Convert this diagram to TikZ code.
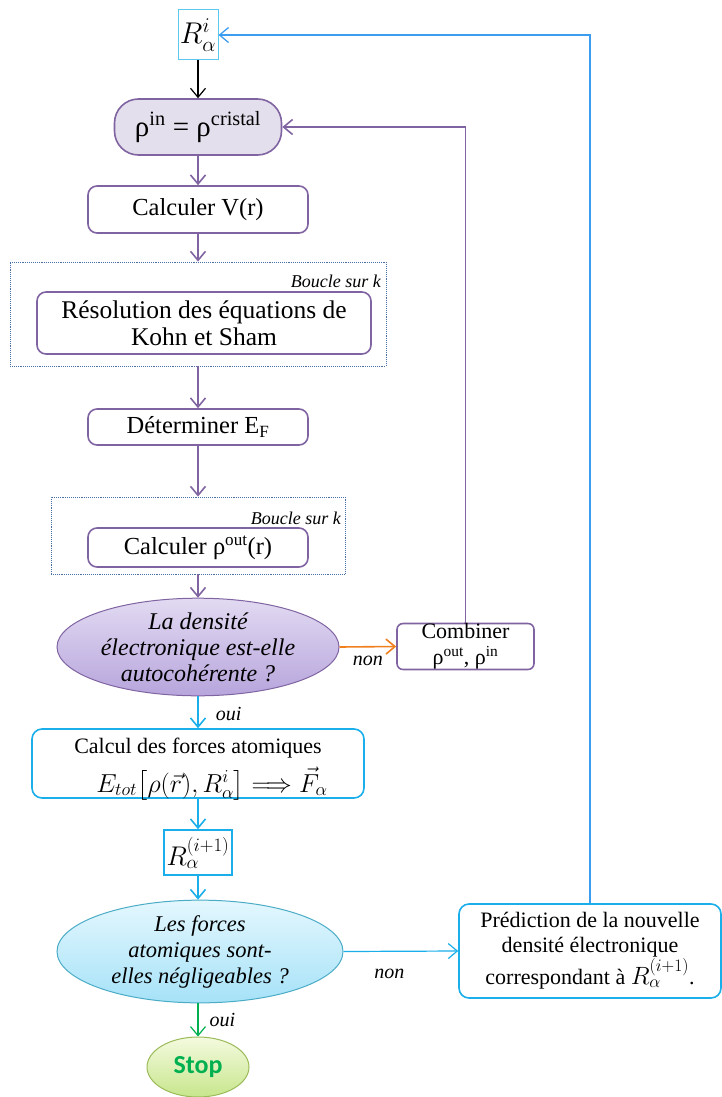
\RequirePackage{fix-cm}
\documentclass[tikz,border=0pt]{standalone}
\usepackage{fontspec}
\usepackage{amsmath}
\setmainfont{Liberation Serif}
\newfontfamily\stopfont{Carlito}
\usetikzlibrary{arrows.meta,shapes.geometric}
\definecolor{purp}{HTML}{8064A2}
\definecolor{lav}{HTML}{E4DFEC}
\definecolor{ptop}{HTML}{E2DAF2}
\definecolor{pbot}{HTML}{B7A5DC}
\definecolor{cyanl}{HTML}{1AAEEA}
\definecolor{cyanp}{HTML}{5BC8F0}
\definecolor{skyl}{HTML}{3C9CF0}
\definecolor{ctop}{HTML}{E4F7FE}
\definecolor{cbot}{HTML}{A6E2F8}
\definecolor{cbord}{HTML}{4BACC6}
\definecolor{orng}{HTML}{F07F1E}
\definecolor{grn}{HTML}{00B050}
\definecolor{gtop}{HTML}{F4FADF}
\definecolor{gbot}{HTML}{C7E68C}
\definecolor{gbord}{HTML}{9BBB59}
\definecolor{dotc}{HTML}{4A6FA5}
\newcommand{\fs}[1]{\fontsize{#1}{#1}\selectfont}
\tikzset{
  x=1pt, y=-1pt,
  tip/.style={-{Straight Barb[length=9pt,width=15pt]}},
  pbox/.style={draw=purp, line width=1.6pt, rounded corners=9pt, fill=white,
    inner sep=0pt, align=center, font=\fs{24.5}},
  cbox/.style={draw=cyanl, line width=1.6pt, rounded corners=10pt, fill=white,
    inner sep=0pt, align=center},
  loopbox/.style={draw=dotc, densely dotted, line width=0.9pt, inner sep=0pt},
  plink/.style={tip, draw=purp, line width=1.6pt},
  clink/.style={tip, draw=cyanl, line width=1.6pt},
  lbl/.style={font=\fs{20}\itshape, inner sep=0pt},
}
\begin{document}
\begin{tikzpicture}
\useasboundingbox (0,0) rectangle (721,1097);

% main chain
\node[draw=cyanp, line width=1pt, minimum width=40pt, minimum height=50pt, inner sep=0pt,
  font=\fs{30}] (Ri) at (198,35) {$R_\alpha^i$};
\node[draw=purp, fill=lav, line width=1.6pt, rounded corners=24pt, minimum width=167pt,
  minimum height=56pt, inner sep=0pt, font=\fs{29}] (rhoin) at (198,127)
  {ρ\textsuperscript{in} = ρ\textsuperscript{cristal}};
\node[pbox, minimum width=220pt, minimum height=47pt] (calcV) at (198,209.5) {Calculer V(r)};

\node[loopbox, minimum width=376pt, minimum height=104pt] (loop1) at (198,314) {};
\node[lbl, font=\fs{18}\itshape, anchor=east] (bk1) at (381,281) {Boucle sur k};
\node[pbox, minimum width=334pt, minimum height=62pt, font=\fontsize{25.5}{27}\selectfont]
  (resol) at (204,323) {Résolution des équations de\\Kohn et Sham};

\node[pbox, minimum width=220pt, minimum height=36pt] (determ) at (198,427)
  {Déterminer E\textsubscript{F}};

\node[loopbox, minimum width=294pt, minimum height=77pt] (loop2) at (198,535.5) {};
\node[lbl, font=\fs{18}\itshape, anchor=east] (bk2) at (341,518) {Boucle sur k};
\node[pbox, minimum width=220pt, minimum height=39pt] (calcrho) at (198,547.5)
  {Calculer ρ\textsuperscript{out}(r)};

\node[ellipse, draw=purp, line width=1pt, top color=ptop, bottom color=pbot,
  minimum width=282pt, minimum height=94pt, inner sep=0pt, align=center,
  font=\fontsize{24}{26}\selectfont\itshape] (ell1) at (198,647)
  {La densité\\électronique est-elle\\autocohérente ?};

\node[draw=purp, line width=1.6pt, rounded corners=6pt, fill=white, minimum width=137pt,
  minimum height=45pt, inner sep=0pt, align=center, font=\fontsize{22}{26}\selectfont]
  (comb) at (465.5,646.5) {Combiner\\ρ\textsuperscript{out}, ρ\textsuperscript{in}};

% force computation box and its two lines
\node[cbox, minimum width=332pt, minimum height=69pt] (forces) at (198,763.5) {};
\node[font=\fs{22}, inner sep=0pt] (forcesT) at (198,748) {Calcul des forces atomiques};
\node[font=\fs{26}, inner sep=0pt] (forcesM) at (212,784)
  {$E_{tot}\bigl[\rho(\vec r), R_\alpha^i\bigr] \Longrightarrow \vec F_\alpha$};

\node[draw=cyanl, line width=1.6pt, minimum width=68pt, minimum height=45pt, inner sep=0pt,
  font=\fs{27}] (Rn) at (198,852.5) {$R_\alpha^{(i+1)}$};

\node[ellipse, draw=cbord, line width=1pt, top color=ctop, bottom color=cbot,
  minimum width=286pt, minimum height=93pt, inner sep=0pt, align=center,
  font=\fontsize{22.5}{26}\selectfont\itshape] (ell2) at (200,951.5)
  {Les forces\\atomiques sont-\\elles négligeables ?};

\node[cbox, minimum width=262pt, minimum height=94pt, font=\fontsize{22}{25}\selectfont]
  (pred) at (590,951)
  {Prédiction de la nouvelle\\densité électronique\\correspondant à {\fs{25}$R_\alpha^{(i+1)}$}.};

\node[ellipse, draw=gbord, line width=1pt, top color=gtop, bottom color=gbot,
  minimum width=102pt, minimum height=60pt, inner sep=0pt,
  font=\stopfont\bfseries\fs{26}, text=grn] (stop) at (198,1067) {Stop};

% connectors
\draw[tip, line width=1.2pt] (Ri) -- (rhoin);
\draw[plink] (rhoin.south) -- (calcV.north);
\draw[plink] (calcV.south) -- (loop1.north);
\draw[plink] (loop1.south) -- (determ.north);
\draw[plink] (determ.south) -- (loop2.north);
\draw[plink] (loop2.south) -- (ell1.north);
\draw[tip, draw=orng, line width=1.6pt] (ell1.east) -- (comb.west)
  node[lbl, pos=0.5, below=9pt] (non1) {non};
\draw[plink] (comb.north) |- (rhoin.east);
\draw[clink] (ell1.south) -- (forces.north)
  node[lbl, pos=0.55, right=17pt] (oui1) {oui};
\draw[clink] (forces.south) -- (Rn.north);
\draw[clink] (Rn.south) -- (ell2.north -| Rn.south);
\draw[tip, draw=cyanl, line width=1.2pt] (ell2.east) -- (pred.west)
  node[lbl, pos=0.4, below=17pt] (non2) {non};
\draw[tip, draw=skyl, line width=1.3pt] (pred.north) |- (Ri.east);
\draw[tip, draw=grn, line width=1.2pt] (ell2.south -| stop.north) -- (stop.north)
  node[lbl, pos=0.5, right=11pt] (oui2) {oui};
\end{tikzpicture}
\end{document}
